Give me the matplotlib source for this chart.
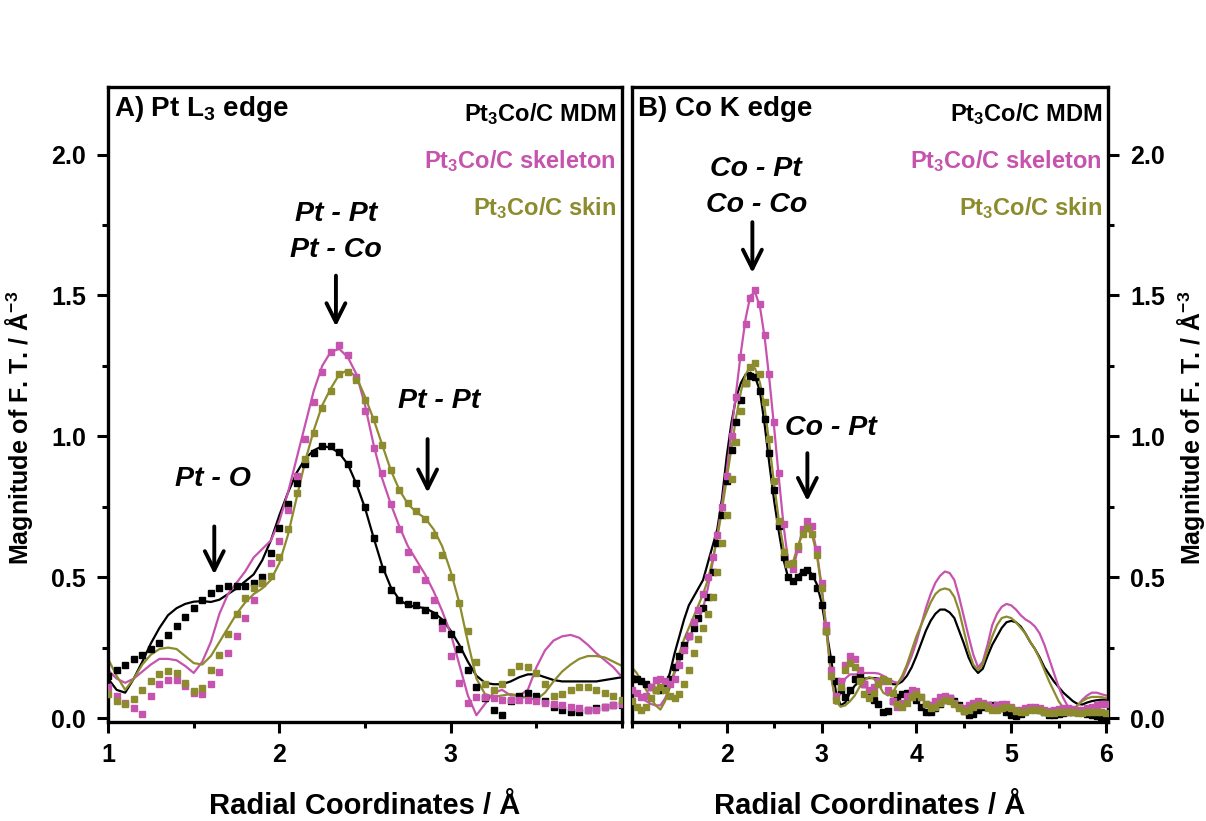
import numpy as np
import matplotlib
matplotlib.use("Agg")
import matplotlib.pyplot as plt
from matplotlib.ticker import MultipleLocator

plt.rcParams['font.family'] = ['Liberation Sans', 'DejaVu Sans']
plt.rcParams['font.weight'] = 'bold'
plt.rcParams['axes.labelweight'] = 'bold'
plt.rcParams['mathtext.fontset'] = 'custom'
plt.rcParams['mathtext.bf'] = 'Liberation Sans:bold'
plt.rcParams['mathtext.rm'] = 'Liberation Sans:bold'
plt.rcParams['mathtext.default'] = 'bf'

PINK = '#C653AE'
OLIVE = '#8C8C2E'

# ---- A) Pt L3 edge, R grid 1.00 .. 4.00 step 0.05
rA = np.round(np.arange(1.0, 4.0001, 0.05), 2)

mdmA_data = [0.15, 0.17, 0.19, 0.21, 0.225, 0.245, 0.265, 0.295, 0.325, 0.36,
             0.39, 0.42, 0.445, 0.46, 0.468, 0.47, 0.47, 0.48, 0.50, 0.585,
             0.675, 0.76, 0.835, 0.90, 0.94, 0.965, 0.965, 0.945, 0.90, 0.835,
             0.75, 0.64, 0.53, 0.455, 0.42, 0.405, 0.40, 0.385, 0.365, 0.34,
             0.30, 0.245, 0.17, 0.11, 0.07, 0.03, 0.01, 0.06, 0.08, 0.09,
             0.08, 0.06, 0.04, 0.03, 0.02, 0.02, 0.03, 0.035, 0.04, 0.045, 0.048]
mdmA_fit = [0.14, 0.10, 0.09, 0.14, 0.20, 0.265, 0.32, 0.365, 0.39, 0.405,
            0.413, 0.415, 0.412, 0.42, 0.44, 0.46, 0.485, 0.51, 0.56, 0.63,
            0.72, 0.80, 0.87, 0.92, 0.95, 0.965, 0.96, 0.94, 0.90, 0.83,
            0.745, 0.64, 0.54, 0.465, 0.42, 0.40, 0.395, 0.39, 0.375, 0.35,
            0.31, 0.26, 0.20, 0.15, 0.125, 0.12, 0.12, 0.13, 0.145, 0.155,
            0.155, 0.145, 0.135, 0.13, 0.13, 0.13, 0.13, 0.13, 0.135, 0.14, 0.145]
skelA_data = [0.11, 0.08, 0.055, 0.035, 0.015, 0.08, 0.12, 0.135, 0.135, 0.115,
              0.09, 0.085, 0.12, 0.165, 0.23, 0.29, 0.355, 0.42, 0.48, 0.55,
              0.63, 0.74, 0.86, 0.99, 1.12, 1.23, 1.30, 1.325, 1.29, 1.21,
              1.09, 0.96, 0.87, 0.76, 0.67, 0.59, 0.53, 0.49, 0.42, 0.32,
              0.22, 0.125, 0.055, 0.075, 0.075, 0.07, 0.065, 0.065, 0.065, 0.065,
              0.06, 0.055, 0.05, 0.045, 0.04, 0.035, 0.03, 0.03, 0.04, 0.045, 0.05]
skelA_fit = [0.17, 0.14, 0.125, 0.14, 0.165, 0.19, 0.21, 0.21, 0.205, 0.185,
             0.16, 0.20, 0.27, 0.37, 0.44, 0.48, 0.52, 0.57, 0.60, 0.63,
             0.70, 0.80, 0.92, 1.04, 1.16, 1.25, 1.30, 1.31, 1.28, 1.22,
             1.11, 0.97, 0.85, 0.76, 0.68, 0.61, 0.56, 0.51, 0.45, 0.38,
             0.30, 0.19, 0.08, 0.01, 0.05, 0.09, 0.10, 0.08, 0.08, 0.10,
             0.18, 0.24, 0.275, 0.29, 0.295, 0.285, 0.26, 0.23, 0.205, 0.18, 0.145]
skinA_data = [0.085, 0.06, 0.05, 0.068, 0.10, 0.13, 0.158, 0.167, 0.16, 0.125,
              0.095, 0.105, 0.17, 0.225, 0.30, 0.37, 0.425, 0.46, 0.48, 0.505,
              0.57, 0.67, 0.80, 0.92, 1.01, 1.10, 1.16, 1.22, 1.23, 1.20,
              1.13, 1.06, 0.97, 0.88, 0.81, 0.765, 0.735, 0.705, 0.65, 0.58,
              0.50, 0.41, 0.31, 0.20, 0.12, 0.10, 0.12, 0.165, 0.185, 0.18,
              0.16, 0.12, 0.08, 0.085, 0.10, 0.11, 0.11, 0.10, 0.09, 0.08, 0.065]
skinA_fit = [0.21, 0.15, 0.10, 0.14, 0.19, 0.225, 0.245, 0.25, 0.245, 0.22,
             0.195, 0.19, 0.22, 0.27, 0.32, 0.37, 0.41, 0.44, 0.46, 0.49,
             0.55, 0.65, 0.78, 0.91, 1.02, 1.11, 1.17, 1.22, 1.235, 1.21,
             1.14, 1.06, 0.97, 0.88, 0.81, 0.76, 0.73, 0.71, 0.67, 0.61,
             0.52, 0.41, 0.27, 0.14, 0.085, 0.075, 0.08, 0.085, 0.08, 0.07,
             0.065, 0.09, 0.13, 0.165, 0.19, 0.21, 0.22, 0.22, 0.215, 0.20, 0.185]

# ---- B) Co K edge, R grid 1.00 .. 6.00 step 0.05
rB = np.round(np.arange(1.0, 6.0001, 0.05), 2)

mdmB_data = [0.14, 0.14, 0.13, 0.12, 0.11, 0.10, 0.10, 0.11, 0.14, 0.18,
             0.22, 0.26, 0.29, 0.32, 0.355, 0.39, 0.43, 0.52, 0.62, 0.72,
             0.84, 0.95, 1.05, 1.13, 1.19, 1.215, 1.21, 1.16, 1.06, 0.94,
             0.81, 0.68, 0.57, 0.50, 0.485, 0.50, 0.52, 0.527, 0.505, 0.46,
             0.40, 0.31, 0.21, 0.13, 0.10, 0.075, 0.10, 0.14, 0.15, 0.12,
             0.085, 0.065, 0.05, 0.02, 0.025, 0.06, 0.075, 0.085, 0.09, 0.08,
             0.065, 0.04, 0.02, 0.02, 0.035, 0.05, 0.065, 0.07, 0.06, 0.045,
             0.025, 0.012, 0.015, 0.03, 0.04, 0.045, 0.047, 0.045, 0.035, 0.022,
             0.01, 0.006, 0.015, 0.028, 0.036, 0.036, 0.03, 0.02, 0.012, 0.012,
             0.015, 0.018, 0.02, 0.022, 0.024, 0.02, 0.015, 0.012, 0.008, 0.004, 0.0]
mdmB_fit = [0.15, 0.145, 0.135, 0.125, 0.11, 0.10, 0.095, 0.11, 0.16, 0.23,
            0.29, 0.35, 0.40, 0.43, 0.46, 0.49, 0.55, 0.61, 0.67, 0.78,
            0.93, 1.05, 1.14, 1.19, 1.22, 1.226, 1.21, 1.16, 1.04, 0.90,
            0.77, 0.66, 0.56, 0.495, 0.485, 0.505, 0.52, 0.527, 0.51, 0.475,
            0.41, 0.31, 0.21, 0.095, 0.045, 0.055, 0.09, 0.115, 0.13, 0.14,
            0.142, 0.142, 0.14, 0.135, 0.128, 0.12, 0.12, 0.13, 0.15, 0.18,
            0.22, 0.265, 0.31, 0.345, 0.37, 0.385, 0.385, 0.375, 0.355, 0.31,
            0.265, 0.215, 0.18, 0.16, 0.175, 0.22, 0.26, 0.29, 0.32, 0.34,
            0.345, 0.34, 0.325, 0.30, 0.27, 0.245, 0.215, 0.18, 0.155, 0.13,
            0.11, 0.09, 0.075, 0.06, 0.05, 0.048, 0.055, 0.06, 0.063, 0.065, 0.065]
skelB_data = [0.10, 0.09, 0.075, 0.08, 0.11, 0.135, 0.14, 0.13, 0.12, 0.14,
              0.19, 0.24, 0.29, 0.34, 0.385, 0.44, 0.50, 0.57, 0.65, 0.75,
              0.86, 1.00, 1.14, 1.28, 1.40, 1.49, 1.52, 1.47, 1.36, 1.22,
              1.05, 0.87, 0.69, 0.545, 0.53, 0.60, 0.67, 0.70, 0.68, 0.60,
              0.48, 0.33, 0.17, 0.08, 0.13, 0.19, 0.22, 0.21, 0.17, 0.12,
              0.10, 0.11, 0.13, 0.13, 0.10, 0.06, 0.04, 0.055, 0.08, 0.10,
              0.095, 0.075, 0.05, 0.045, 0.06, 0.075, 0.08, 0.07, 0.055, 0.04,
              0.035, 0.045, 0.055, 0.06, 0.055, 0.045, 0.04, 0.045, 0.05, 0.05,
              0.04, 0.03, 0.03, 0.035, 0.04, 0.04, 0.035, 0.028, 0.025, 0.028,
              0.032, 0.035, 0.035, 0.032, 0.028, 0.03, 0.035, 0.04, 0.045, 0.05, 0.05]
skelB_fit = [0.11, 0.09, 0.07, 0.06, 0.05, 0.045, 0.045, 0.07, 0.11, 0.16,
             0.20, 0.24, 0.28, 0.32, 0.35, 0.39, 0.46, 0.55, 0.65, 0.76,
             0.88, 1.02, 1.16, 1.30, 1.42, 1.50, 1.51, 1.46, 1.35, 1.20,
             1.03, 0.85, 0.68, 0.55, 0.53, 0.60, 0.67, 0.69, 0.67, 0.59,
             0.47, 0.32, 0.15, 0.05, 0.09, 0.14, 0.155, 0.155, 0.155, 0.16,
             0.16, 0.16, 0.158, 0.15, 0.14, 0.13, 0.125, 0.14, 0.18, 0.22,
             0.27, 0.33, 0.39, 0.44, 0.48, 0.505, 0.52, 0.515, 0.49, 0.43,
             0.36, 0.29, 0.225, 0.18, 0.20, 0.26, 0.33, 0.37, 0.395, 0.405,
             0.40, 0.385, 0.365, 0.35, 0.34, 0.325, 0.30, 0.26, 0.21, 0.16,
             0.11, 0.07, 0.04, 0.03, 0.045, 0.065, 0.08, 0.09, 0.09, 0.085, 0.08]
skinB_data = [0.06, 0.04, 0.03, 0.04, 0.07, 0.10, 0.11, 0.10, 0.08, 0.07,
              0.085, 0.12, 0.17, 0.23, 0.28, 0.32, 0.37, 0.43, 0.52, 0.62,
              0.72, 0.85, 0.98, 1.09, 1.19, 1.245, 1.26, 1.22, 1.12, 0.99,
              0.84, 0.70, 0.59, 0.545, 0.55, 0.61, 0.655, 0.675, 0.655, 0.58,
              0.46, 0.31, 0.15, 0.065, 0.11, 0.17, 0.195, 0.18, 0.13, 0.085,
              0.07, 0.09, 0.12, 0.14, 0.13, 0.09, 0.05, 0.04, 0.055, 0.075,
              0.085, 0.075, 0.05, 0.035, 0.04, 0.055, 0.065, 0.06, 0.05, 0.035,
              0.025, 0.03, 0.04, 0.045, 0.045, 0.035, 0.028, 0.03, 0.035, 0.04,
              0.035, 0.025, 0.02, 0.022, 0.028, 0.03, 0.028, 0.022, 0.018, 0.018,
              0.02, 0.022, 0.022, 0.02, 0.018, 0.018, 0.02, 0.022, 0.022, 0.02, 0.018]
skinB_fit = [0.18, 0.16, 0.13, 0.10, 0.07, 0.045, 0.03, 0.06, 0.11, 0.17,
             0.23, 0.28, 0.32, 0.36, 0.40, 0.44, 0.49, 0.56, 0.64, 0.74,
             0.85, 0.96, 1.07, 1.16, 1.22, 1.25, 1.24, 1.19, 1.10, 0.97,
             0.83, 0.70, 0.60, 0.55, 0.555, 0.61, 0.655, 0.67, 0.65, 0.58,
             0.46, 0.31, 0.15, 0.06, 0.04, 0.045, 0.06, 0.08, 0.11, 0.135,
             0.145, 0.14, 0.12, 0.09, 0.08, 0.09, 0.12, 0.15, 0.19, 0.24,
             0.29, 0.33, 0.37, 0.41, 0.44, 0.455, 0.46, 0.455, 0.43, 0.38,
             0.31, 0.24, 0.19, 0.17, 0.19, 0.24, 0.29, 0.33, 0.355, 0.36,
             0.355, 0.34, 0.32, 0.30, 0.27, 0.245, 0.21, 0.17, 0.13, 0.095,
             0.06, 0.035, 0.02, 0.025, 0.045, 0.06, 0.07, 0.075, 0.075, 0.075, 0.07]

sample_names = ['Pt$_3$Co/C MDM', 'Pt$_3$Co/C skeleton', 'Pt$_3$Co/C skin']
sample_colors = ['black', PINK, OLIVE]


fig = plt.figure(figsize=(12.06, 8.21), dpi=100)
axA = fig.add_axes([0.0896, 0.1206, 0.4262, 0.7735])
axB = fig.add_axes([0.5240, 0.1206, 0.3947, 0.7735])

def draw_panel(ax, r, datas, fits):
    for d, f, c in zip(datas, fits, sample_colors):
        ax.plot(r, f, color=c, lw=1.6, zorder=2)
        ax.plot(r, d, ls='none', marker='s', ms=4.2, color=c, mec=c, zorder=3)
    ax.set_ylim(-0.014, 2.24)
    ax.yaxis.set_major_locator(MultipleLocator(0.5))
    ax.yaxis.set_minor_locator(MultipleLocator(0.25))
    ax.xaxis.set_minor_locator(MultipleLocator(0.5))
    ax.tick_params(which='major', direction='out', length=8, width=2.2, labelsize=18, pad=7)
    ax.tick_params(which='minor', direction='out', length=4, width=2.2)
    ax.tick_params(axis='y', which='major', pad=8)
    for s in ax.spines.values():
        s.set_linewidth(2.4)
    ax.yaxis.set_major_formatter(plt.FuncFormatter(lambda v, p: '%.1f' % v))
    ax.set_xlabel('Radial Coordinates / Å', fontsize=21, labelpad=18)
    for i, (name, c) in enumerate(zip(sample_names, sample_colors)):
        ax.text(0.988, 0.958 - i * 0.074, name, color=c, transform=ax.transAxes,
                ha='right', va='center', fontsize=17, fontweight='bold')

draw_panel(axA, rA, [mdmA_data, skelA_data, skinA_data], [mdmA_fit, skelA_fit, skinA_fit])
draw_panel(axB, rB, [mdmB_data, skelB_data, skinB_data], [mdmB_fit, skelB_fit, skinB_fit])

axA.set_xlim(1.0, 4.0)
axA.set_xticks([1, 2, 3])
axB.set_xlim(1.0, 6.02)
axB.set_xticks([2, 3, 4, 5, 6])
axB.yaxis.tick_right()
axB.yaxis.set_label_position('right')

ylab = 'Magnitude of F. T. / Å$^{-3}$'
axA.set_ylabel(ylab, fontsize=18)
axA.yaxis.set_label_coords(-0.143, 0.463)
axB.set_ylabel(ylab, fontsize=18, rotation=90)
axB.yaxis.set_label_coords(1.14, 0.463)

axA.text(0.012, 0.966, 'A) Pt L$_3$ edge', transform=axA.transAxes, ha='left', va='center',
         fontsize=20, fontweight='bold')
axB.text(0.012, 0.966, 'B) Co K edge', transform=axB.transAxes, ha='left', va='center',
         fontsize=20, fontweight='bold')

# peak labels and arrows
lbl = dict(ha='center', va='center', fontsize=20.5, fontweight='bold', style='italic')
arr = dict(arrowstyle='->', lw=2.8, color='black', mutation_scale=34)

axA.text(2.33, 1.79, 'Pt - Pt', **lbl)
axA.text(2.33, 1.66, 'Pt - Co', **lbl)
axA.annotate('', xy=(2.33, 1.38), xytext=(2.33, 1.58), arrowprops=arr)
axA.text(2.93, 1.125, 'Pt - Pt', **lbl)
axA.annotate('', xy=(2.865, 0.79), xytext=(2.865, 1.0), arrowprops=arr)
axA.text(1.615, 0.85, 'Pt - O', **lbl)
axA.annotate('', xy=(1.62, 0.50), xytext=(1.62, 0.69), arrowprops=arr)

axB.text(2.31, 1.95, 'Co - Pt', **lbl)
axB.text(2.31, 1.82, 'Co - Co', **lbl)
axB.annotate('', xy=(2.27, 1.57), xytext=(2.27, 1.77), arrowprops=arr)
axB.text(3.1, 1.03, 'Co - Pt', **lbl)
axB.annotate('', xy=(2.85, 0.76), xytext=(2.85, 0.95), arrowprops=arr)

fig.savefig('out.png', dpi=100)
